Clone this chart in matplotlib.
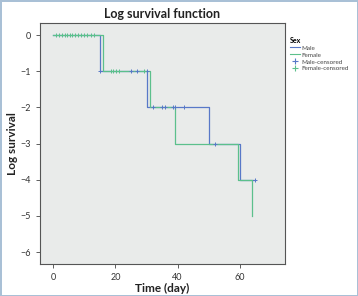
import numpy as np
import matplotlib.pyplot as plt
from matplotlib.lines import Line2D

plt.rcParams['font.family'] = ['Lato', 'DejaVu Sans']

# step curves (time, log survival)
male_t = [0, 15, 30, 50, 60, 65]
male_s = [0, -1, -2, -3, -4, -4]
female_t = [0, 16, 31, 39, 59.5, 64, 64]
female_s = [0, -1, -2, -3, -4, -5, -5]

# censored observations
male_cens_t = [15, 25, 27, 30, 32, 35, 36, 38.5, 39.3, 42, 52, 65]
male_cens_s = [-1, -1, -1, -1, -2, -2, -2, -2, -2, -2, -3, -4]
female_cens_t = [1, 2, 3, 3.7, 4.5, 5.3, 6.2, 7, 8, 9, 10, 11, 12, 13,
                 18.5, 19.3, 20.1, 21, 29.2]
female_cens_s = [0] * 14 + [-1] * 5

blue = '#5878C8'
green = '#5CC08C'

fig = plt.figure(figsize=(3.58, 2.96), dpi=100)
ax = fig.add_axes([0.112, 0.108, 0.684, 0.814])
ax.set_facecolor('#E9EBEA')

ax.step(male_t, male_s, where='post', color=blue, lw=0.9)
ax.step(female_t, female_s, where='post', color=green, lw=0.9)
ax.plot(male_cens_t, male_cens_s, '+', color=blue, ms=3.5, mew=0.7)
ax.plot(female_cens_t, female_cens_s, '+', color=green, ms=3.5, mew=0.7)

ax.set_xlim(-4.2, 74.5)
ax.set_ylim(-6.33, 0.33)
ax.set_xticks([0, 20, 40, 60])
ax.set_yticks([0, -1, -2, -3, -4, -5, -6])
ax.tick_params(labelsize=6.5, length=3, width=0.6, colors='#444444',
               labelcolor='#333333')
for sp in ax.spines.values():
    sp.set_color('#555555')
    sp.set_linewidth(0.8)

ax.set_title('Log survival function', fontsize=9, fontweight='bold', pad=4,
             color='#222222')
ax.set_xlabel('Time (day)', fontsize=8.5, fontweight='bold', labelpad=1,
              color='#222222')
ax.set_ylabel('Log survival', fontsize=8.5, fontweight='bold', labelpad=2,
              color='#222222')

handles = [Line2D([], [], color=blue, lw=0.8),
           Line2D([], [], color=green, lw=0.8),
           Line2D([], [], color=blue, marker='+', lw=0, ms=4, mew=0.8),
           Line2D([], [], color=green, marker='+', lw=0, ms=4, mew=0.8)]
leg = fig.legend(handles, ['Male', 'Female', 'Male-censored', 'Female-censored'],
                 title='Sex', loc='upper left', bbox_to_anchor=(0.795, 0.895),
                 frameon=False, fontsize=4.5, title_fontsize=5,
                 handlelength=1.5, handletextpad=0.3, labelspacing=0.25,
                 alignment='left')
leg.get_title().set_fontweight('bold')
for t in leg.get_texts():
    t.set_color('#444444')

fig.patch.set_edgecolor('#A9C0D6')
fig.patch.set_linewidth(2)

fig.savefig('out.png', dpi=100, edgecolor=fig.get_edgecolor())
